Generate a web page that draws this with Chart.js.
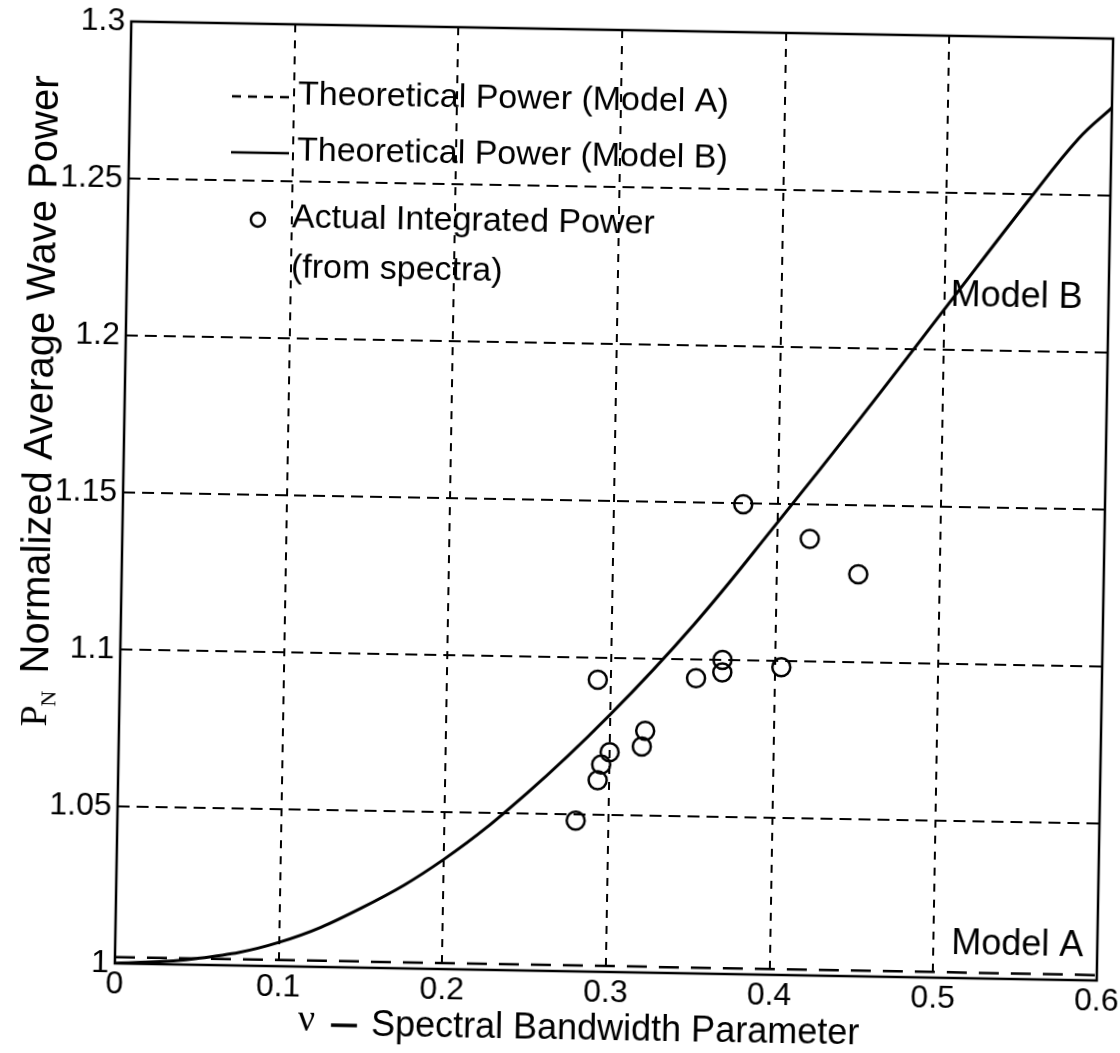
<!DOCTYPE html>
<html>
<head>
<meta charset="utf-8">
<script src="https://cdn.jsdelivr.net/npm/chart.js@4.4.1/dist/chart.umd.min.js"></script>
<style>
  html, body { margin: 0; padding: 0; background: #fff; overflow: hidden; width: 1120px; height: 1053px; }
  #wrap { position: absolute; left: 0; top: 0; width: 1180px; height: 1100px;
          transform: rotate(1deg); transform-origin: 614px 501px; }
  canvas { display: block; }
</style>
</head>
<body>
<div id="wrap"><canvas id="c" width="1180" height="1100"></canvas></div>
<script>
// Axis ticks
const xTicks = [0, 0.1, 0.2, 0.3, 0.4, 0.5, 0.6];
const xTickLabels = ['0', '0.1', '0.2', '0.3', '0.4', '0.5', '0.6'];
const yTicks = [1, 1.05, 1.1, 1.15, 1.2, 1.25, 1.3];
const yTickLabels = ['1', '1.05', '1.1', '1.15', '1.2', '1.25', '1.3'];

// Theoretical power, Model A
const modelANu = [0, 0.1, 0.2, 0.3, 0.4, 0.5, 0.6];
const modelAPower = [1.002, 1.002, 1.0019, 1.0019, 1.0018, 1.0018, 1.0017];

// Theoretical power, Model B
const modelBNu = [0, 0.05, 0.1, 0.15, 0.2, 0.25, 0.3, 0.35, 0.4, 0.45, 0.5, 0.55, 0.58, 0.6];
const modelBPower = [1.0, 1.002, 1.0076, 1.019, 1.035, 1.0565, 1.082, 1.111, 1.144, 1.178, 1.213, 1.248, 1.268, 1.278];

// Actual integrated power (from spectra)
const measuredNu = [0.280, 0.293, 0.295, 0.300, 0.292, 0.3215, 0.3196, 0.352, 0.368, 0.368, 0.379, 0.420, 0.450, 0.404];
const measuredPower = [1.048, 1.061, 1.066, 1.070, 1.093, 1.077, 1.072, 1.094, 1.100, 1.096, 1.1497, 1.139, 1.128, 1.098];

const FONT = '"Liberation Sans", Arial, Helvetica, sans-serif';
const SERIF = '"Liberation Serif", "Times New Roman", serif';
const INK = '#000';

const toPoints = (xs, ys) => xs.map((v, i) => ({ x: v, y: ys[i] }));

const decorations = {
  id: 'decorations',
  beforeDraw(chart) {
    const { ctx, width, height } = chart;
    ctx.save();
    ctx.fillStyle = '#fff';
    ctx.fillRect(0, 0, width, height);
    ctx.restore();
  },
  afterDraw(chart) {
    const { ctx, chartArea: a } = chart;
    ctx.save();
    // plot frame
    ctx.strokeStyle = INK;
    ctx.lineWidth = 2.5;
    ctx.setLineDash([]);
    ctx.strokeRect(a.left, a.top, a.right - a.left, a.bottom - a.top);

    // legend
    ctx.fillStyle = INK;
    ctx.font = '34px ' + FONT;
    ctx.textBaseline = 'middle';
    ctx.textAlign = 'left';
    const lx0 = a.left + 102, lx1 = a.left + 160, tx = a.left + 168;
    ctx.lineWidth = 2.5;
    ctx.setLineDash([9, 7]);
    ctx.beginPath(); ctx.moveTo(lx0, a.top + 73); ctx.lineTo(lx1, a.top + 73); ctx.stroke();
    ctx.fillText('Theoretical Power (Model A)', tx, a.top + 71);
    ctx.setLineDash([]);
    ctx.beginPath(); ctx.moveTo(lx0, a.top + 129); ctx.lineTo(lx1, a.top + 129); ctx.stroke();
    ctx.fillText('Theoretical Power (Model B)', tx, a.top + 127);
    ctx.lineWidth = 2.5;
    ctx.beginPath(); ctx.arc(a.left + 130, a.top + 196, 7, 0, Math.PI * 2); ctx.stroke();
    ctx.fillText('Actual Integrated Power', tx - 4, a.top + 194);
    ctx.fillText('(from spectra)', tx - 4, a.top + 244);

    // curve labels
    ctx.font = '36px ' + FONT;
    ctx.fillText('Model B', a.right - 158, a.top + 260);
    ctx.fillText('Model A', a.right - 146, a.bottom - 34);

    // x axis title
    ctx.textAlign = 'left';
    ctx.textBaseline = 'middle';
    const xt = 'Spectral Bandwidth Parameter';
    ctx.font = '38px ' + SERIF;
    const nuW = ctx.measureText('ν').width;
    const startX = a.left + 184;
    const ty = a.bottom + 58;
    ctx.fillText('ν', startX, ty - 4);
    ctx.lineWidth = 3.5;
    ctx.beginPath(); ctx.moveTo(startX + nuW + 16, ty); ctx.lineTo(startX + nuW + 42, ty); ctx.stroke();
    ctx.font = '36px ' + FONT;
    ctx.fillText(xt, startX + nuW + 56, ty);

    // y axis title
    ctx.translate(a.left - 83, (a.top + a.bottom) / 2 - 90);
    ctx.rotate(-Math.PI / 2);
    const yt = 'Normalized Average Wave Power';
    ctx.font = '40px ' + FONT;
    const ytW = ctx.measureText(yt).width;
    ctx.font = '38px ' + SERIF;
    const pW = ctx.measureText('P').width;
    ctx.font = '22px ' + SERIF;
    const nW = ctx.measureText('N').width;
    const total = pW + nW + 16 + ytW;
    const px = -total / 2;
    ctx.font = '38px ' + SERIF;
    ctx.fillText('P', px, 0);
    ctx.font = '22px ' + SERIF;
    ctx.fillText('N', px + pW - 1, 13);
    ctx.font = '40px ' + FONT;
    ctx.fillText(yt, px + pW + nW + 16, 0);
    ctx.restore();
  }
};

new Chart(document.getElementById('c'), {
  type: 'scatter',
  data: {
    datasets: [
      {
        label: 'Theoretical Power (Model A)',
        type: 'line',
        data: toPoints(modelANu, modelAPower),
        borderColor: INK,
        borderWidth: 2.5,
        borderDash: [20, 12],
        pointRadius: 0,
        fill: false
      },
      {
        label: 'Theoretical Power (Model B)',
        type: 'line',
        data: toPoints(modelBNu, modelBPower),
        borderColor: INK,
        borderWidth: 3,
        pointRadius: 0,
        tension: 0.4,
        fill: false
      },
      {
        label: 'Actual Integrated Power (from spectra)',
        data: toPoints(measuredNu, measuredPower),
        pointStyle: 'circle',
        pointRadius: 9,
        pointBorderWidth: 2.5,
        borderColor: INK,
        backgroundColor: 'rgba(0,0,0,0)'
      }
    ]
  },
  options: {
    responsive: false,
    animation: false,
    devicePixelRatio: 1,
    layout: { padding: { left: 0, right: 75, top: 30, bottom: 47 } },
    plugins: { legend: { display: false }, tooltip: { enabled: false } },
    scales: {
      x: {
        type: 'linear',
        min: 0,
        max: 0.6,
        afterBuildTicks: s => { s.ticks = xTicks.map(v => ({ value: v })); },
        afterFit: s => { s.height = 81; s.paddingLeft = 0; s.paddingRight = 0; },
        ticks: {
          callback: (v, i) => xTickLabels[i],
          font: { family: FONT, size: 32 },
          color: INK,
          padding: 2,
          maxRotation: 0,
          autoSkip: false
        },
        grid: { color: INK, lineWidth: 2, drawTicks: false },
        border: { display: false, dash: [8, 8] }
      },
      y: {
        type: 'linear',
        min: 1,
        max: 1.3,
        afterBuildTicks: s => { s.ticks = yTicks.map(v => ({ value: v })); },
        afterFit: s => { s.width = 123; s.paddingTop = 0; s.paddingBottom = 0; },
        ticks: {
          callback: (v, i) => yTickLabels[i],
          font: { family: FONT, size: 32 },
          color: INK,
          padding: 6,
          autoSkip: false
        },
        grid: { color: INK, lineWidth: 2, drawTicks: false },
        border: { display: false, dash: [12, 7] }
      }
    }
  },
  plugins: [decorations]
});
</script>
</body>
</html>
